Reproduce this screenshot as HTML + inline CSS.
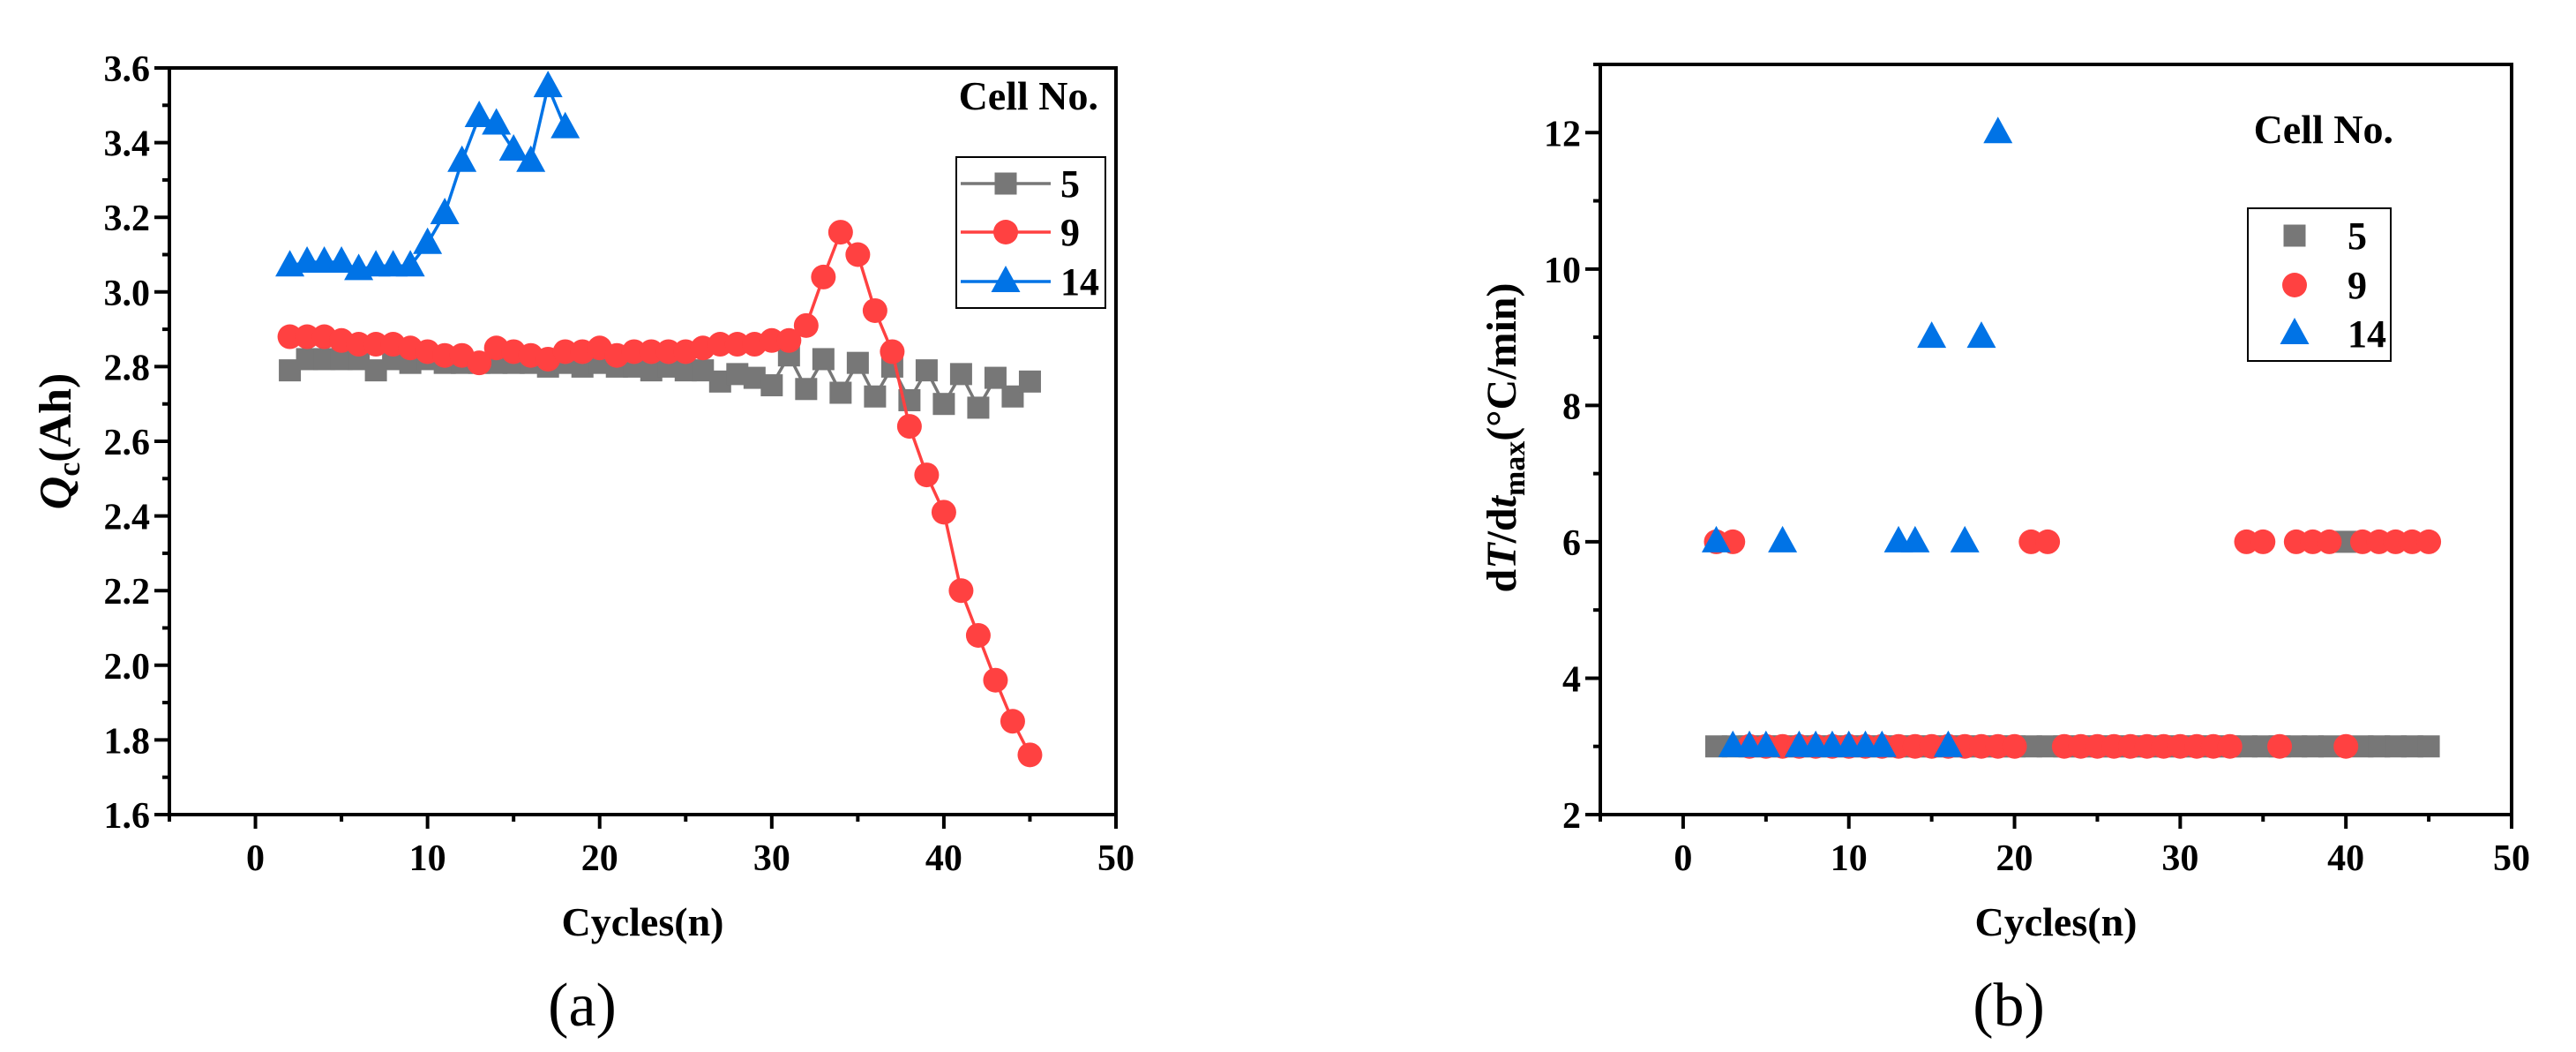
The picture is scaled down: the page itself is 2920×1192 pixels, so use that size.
<!DOCTYPE html>
<html><head><meta charset="utf-8"><style>
html,body{margin:0;padding:0;background:#fff;}
svg{display:block;}
</style></head><body>
<svg id="fig" width="2920" height="1192" viewBox="0 0 2920 1192"></svg>
<script>
const cyclesA5=[2,3,4,5,6,7,8,9,10,11,12,13,14,15,16,17,18,19,20,21,22,23,24,25,26,27,28,29,30,31,32,33,34,35,36,37,38,39,40,41,42,43,44,45];
const qcA5=[2.79,2.82,2.82,2.82,2.82,2.79,2.82,2.81,2.82,2.81,2.81,2.81,2.81,2.81,2.81,2.80,2.81,2.80,2.81,2.80,2.80,2.79,2.80,2.79,2.79,2.76,2.78,2.77,2.75,2.83,2.74,2.82,2.73,2.81,2.72,2.80,2.71,2.79,2.70,2.78,2.69,2.77,2.72,2.76];
const cyclesA9=cyclesA5;
const qcA9=[2.88,2.88,2.88,2.87,2.86,2.86,2.86,2.85,2.84,2.83,2.83,2.81,2.85,2.84,2.83,2.82,2.84,2.84,2.85,2.83,2.84,2.84,2.84,2.84,2.85,2.86,2.86,2.86,2.87,2.87,2.91,3.04,3.16,3.10,2.95,2.84,2.64,2.51,2.41,2.20,2.08,1.96,1.85,1.76];
const cyclesA14=[2,3,4,5,6,7,8,9,10,11,12,13,14,15,16,17,18];
const qcA14=[3.07,3.08,3.08,3.08,3.06,3.07,3.07,3.07,3.13,3.21,3.35,3.47,3.45,3.38,3.35,3.55,3.44];
const cyclesB=cyclesA5;
const dtB5=[3,3,3,3,3,3,3,3,3,3,3,3,3,3,3,3,3,3,3,3,3,3,3,3,3,3,3,3,3,3,3,3,3,3,3,3,3,3,6,3,3,3,3,3];
const dtB9=[6,6,3,3,3,3,3,3,3,3,3,3,3,3,3,3,3,3,3,6,6,3,3,3,3,3,3,3,3,3,3,3,6,6,3,6,6,6,3,6,6,6,6,6];
const cyclesB14=[2,3,4,5,6,7,8,9,10,11,12,13,14,15,16,17,18,19];
const dtB14=[6,3,3,3,6,3,3,3,3,3,3,6,6,9,3,6,9,12];
const xTicks=[0,10,20,30,40,50];
const yTicksA=[1.6,1.8,2.0,2.2,2.4,2.6,2.8,3.0,3.2,3.4,3.6];
const yTicksB=[2,4,6,8,10,12];

const NS="http://www.w3.org/2000/svg";
const svg=document.getElementById('fig');
const FONT='"Liberation Serif","DejaVu Serif",serif';
function el(tag,attrs,parent,text){const e=document.createElementNS(NS,tag);if(tag==='text'){e.setAttribute('font-family',FONT);e.setAttribute('font-weight','bold');}for(const k in attrs)e.setAttribute(k,attrs[k]);if(text!==undefined)e.textContent=text;(parent||svg).appendChild(e);return e;}
const GRAY="#777777",RED="#ff4141",BLUE="#0073e6";

function marker(g,type,x,y,color){
  let m;
  if(type==='sq') m=el('rect',{x:x-12.5,y:y-12.5,width:25,height:25,fill:color},g);
  else if(type==='ci') m=el('circle',{cx:x,cy:y,r:14,fill:color},g);
  else m=el('polygon',{points:`${x},${y-18} ${x+16.5},${y+12} ${x-16.5},${y+12}`,fill:color},g);
  return m;
}

function panel(o){
  const X=v=>o.x0+(v-o.xmin)/(o.xmax-o.xmin)*(o.x1-o.x0);
  const Y=v=>o.y1-(v-o.ymin)/(o.ymax-o.ymin)*(o.y1-o.y0);
  const g=el('g',{});
  
  
  o.series.forEach(s=>{
    const sg=el('g',{},g);
    
    
    if(s.line){
      const pts=s.xs.map((c,i)=>X(c)+','+Y(s.ys[i])).join(' ');
      const l=el('polyline',{points:pts,fill:'none',stroke:s.color,'stroke-width':3.5},sg);
      
      
    }
    s.xs.forEach((c,i)=>{
      const m=marker(sg,s.type,X(c),Y(s.ys[i]),s.color);
      
      
    });
  });
  const fr=el('rect',{x:o.x0,y:o.y0,width:o.x1-o.x0,height:o.y1-o.y0,fill:'none',stroke:'#000','stroke-width':4},g);
  
  
  for(let v=o.xmin;v<=o.xmax;v+=5){
    const major=v%10===0;
    el('line',{x1:X(v),x2:X(v),y1:o.y1,y2:o.y1+(major?16:8),stroke:'#000','stroke-width':4},g);
  }
  xTicks.forEach(v=>{
    const t=el('text',{x:X(v),y:o.y1+63,'text-anchor':'middle','font-size':42},g,String(v));
    
    
  });
  o.yticks.forEach((v,i)=>{
    el('line',{x1:o.x0-17,x2:o.x0,y1:Y(v),y2:Y(v),stroke:'#000','stroke-width':4},g);
    const t=el('text',{x:o.x0-22,y:Y(v)+15,'text-anchor':'end','font-size':42},g,o.yfmt(v));
    
    
    if(i<o.yticks.length-1){const mv=(v+o.yticks[i+1])/2;el('line',{x1:o.x0-8,x2:o.x0,y1:Y(mv),y2:Y(mv),stroke:'#000','stroke-width':4},g);}
  });
  if(o.ymax>o.yticks[o.yticks.length-1]){const mv=o.yticks[o.yticks.length-1]+(o.yticks[1]-o.yticks[0])/2;if(mv<=o.ymax)el('line',{x1:o.x0-8,x2:o.x0,y1:Y(mv),y2:Y(mv),stroke:'#000','stroke-width':4},g);}
  const xt=el('text',{x:(o.x0+o.x1)/2,y:1060,'text-anchor':'middle','font-size':46},g,'Cycles(n)');
  
  
  const pl=el('text',{x:o.labx,y:1162,'text-anchor':'middle','font-size':70,'font-weight':'normal',style:'font-weight:normal'},g,o.lab);
  
  
  return {X,Y,g};
}

const A=panel({name:'chart-a',x0:192,x1:1265,y0:77,y1:923,xmin:-5,xmax:50,ymin:1.6,ymax:3.6,yticks:yTicksA,yfmt:v=>v.toFixed(1),labx:660,lab:'(a)',
  series:[{name:'series-cell-5',xs:cyclesA5,ys:qcA5,color:GRAY,type:'sq',line:true},
          {name:'series-cell-9',xs:cyclesA9,ys:qcA9,color:RED,type:'ci',line:true},
          {name:'series-cell-14',xs:cyclesA14,ys:qcA14,color:BLUE,type:'tr',line:true}]});
const B=panel({name:'chart-b',x0:1814,x1:2847,y0:73,y1:923,xmin:-5,xmax:50,ymin:2,ymax:13,yticks:yTicksB,yfmt:v=>String(v),labx:2277,lab:'(b)',
  series:[{name:'series-cell-5',xs:cyclesB,ys:dtB5,color:GRAY,type:'sq',line:false},
          {name:'series-cell-9',xs:cyclesB,ys:dtB9,color:RED,type:'ci',line:false},
          {name:'series-cell-14',xs:cyclesB14,ys:dtB14,color:BLUE,type:'tr',line:false}]});

let t=el('text',{transform:'translate(80,500) rotate(-90)','text-anchor':'middle','font-size':52},A.g);


el('tspan',{'font-style':'italic'},t,'Q');
el('tspan',{'font-size':36,dy:10},t,'c');
el('tspan',{dy:-10},t,'(Ah)');
t=el('text',{transform:'translate(1718,496) rotate(-90)','text-anchor':'middle','font-size':48},B.g);


el('tspan',{},t,'d');el('tspan',{'font-style':'italic'},t,'T');el('tspan',{},t,'/d');el('tspan',{'font-style':'italic'},t,'t');
el('tspan',{'font-size':34,dy:10},t,'max');
el('tspan',{dy:-10},t,'(°C/min)');

function legend(parent,bx,by,bw,bh,titleX,titleY,rows,withLine,mx,lx){
  const lg=el('g',{},parent);
  
  
  const tt=el('text',{x:titleX,y:titleY,'text-anchor':'end','font-size':46},lg,'Cell No.');
  
  
  el('rect',{x:bx,y:by,width:bw,height:bh,fill:'none',stroke:'#000','stroke-width':2},lg);
  rows.forEach(r=>{
    const e=el('g',{},lg);
    
    
    if(withLine)el('line',{x1:bx+5,x2:bx+107,y1:r.y,y2:r.y,stroke:r.c,'stroke-width':3.5},e);
    marker(e,r.t,mx,r.y,r.c);
    el('text',{x:lx,y:r.y+15,'font-size':44},e,r.l);
  });
}
legend(A.g,1084,178,169,171,1245,124,[{y:208,c:GRAY,t:'sq',l:'5'},{y:263,c:RED,t:'ci',l:'9'},{y:319,c:BLUE,t:'tr',l:'14'}],true,1140,1202);
legend(B.g,2548,236,162,173,2713,162,[{y:267,c:GRAY,t:'sq',l:'5'},{y:323,c:RED,t:'ci',l:'9'},{y:378,c:BLUE,t:'tr',l:'14'}],false,2601,2661);
</script>
</body></html>
